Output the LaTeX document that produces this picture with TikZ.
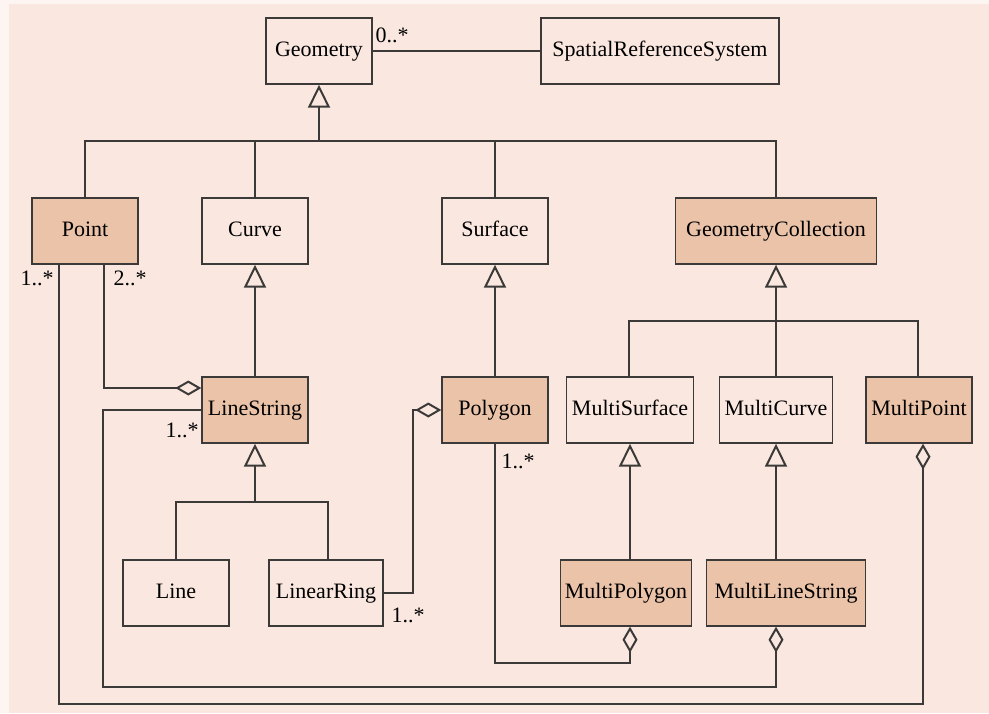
\documentclass[tikz,border=0pt]{standalone}
\usepackage{fontspec}
\setmainfont{Liberation Serif}
\usetikzlibrary{arrows.meta}
\definecolor{paper}{HTML}{FAE8E0}
\definecolor{hilite}{HTML}{EBC3A9}
\definecolor{ink}{HTML}{3C3A38}

\begin{document}
\begin{tikzpicture}[x=0.5pt,y=-0.5pt,
	cls/.style={draw=ink, line width=0.7pt, fill=paper, minimum height=33pt, inner sep=0pt, text height=8pt, text depth=2.5pt, font=\fontsize{11}{13}\selectfont},
	key/.style={cls, fill=hilite},
	mult/.style={font=\fontsize{11}{13}\selectfont, inner sep=0pt},
	link/.style={draw=ink, line width=1pt},
	gen/.style={link, -{Triangle[open, length=11.5pt, width=11pt]}},
	agg/.style={link, -{Diamond[open, length=13pt, width=7.5pt]}}]
	\useasboundingbox (0,0) rectangle (989,713);
	\fill[white!55!paper] (0,0) rectangle (989,713);
	\fill[paper] (9,4) rectangle (989,713);

	% classes
	\node (geom)    at (319, 51)	[cls, minimum width=53pt]	{Geometry};
	\node (srs)     at (660, 51)	[cls, minimum width=119pt]	{SpatialReferenceSystem};
	\node (point)   at ( 85,231)	[key, minimum width=53pt]	{Point};
	\node (curve)   at (255,231)	[cls, minimum width=53pt]	{Curve};
	\node (surface) at (495,231)	[cls, minimum width=53pt]	{Surface};
	\node (gcoll)   at (776,231)	[key, minimum width=100.5pt]	{GeometryCollection};
	\node (linestr) at (255,410)	[key, minimum width=53pt]	{LineString};
	\node (polygon) at (495,410)	[key, minimum width=53pt]	{Polygon};
	\node (msurf)   at (630,410)	[cls, minimum width=63.5pt]	{MultiSurface};
	\node (mcurve)  at (776,410)	[cls, minimum width=56.5pt]	{MultiCurve};
	\node (mpoint)  at (919,410)	[key, minimum width=53pt]	{MultiPoint};
	\node (line)    at (176,593)	[cls, minimum width=53pt]	{Line};
	\node (linring) at (326,593)	[cls, minimum width=57pt]	{LinearRing};
	\node (mpoly)   at (626,593)	[key, minimum width=65.5pt]	{MultiPolygon};
	\node (mlstr)   at (786,593)	[key, minimum width=79.5pt]	{MultiLineString};

	% bends of the tree bars and the long routes
	\coordinate (bar1) at (319,141);
	\coordinate (bar2) at (255,502);
	\coordinate (bar3) at (776,321);
	\coordinate (bot1) at ( 59,704);
	\coordinate (bot2) at (103,687);
	\coordinate (bot3) at (495,663);

	\draw[link] (geom) -- (srs);
	\node (m0) at (392, 35)	[mult]	{0..*};

	% generalisation
	\draw[gen] (bar1) -- (geom);
	\draw[link] (point) |- (bar1) -| (gcoll);
	\draw[link] (curve) -- (curve |- bar1);
	\draw[link] (surface) -- (surface |- bar1);
	\draw[gen] (linestr) -- (curve);
	\draw[gen] (polygon) -- (surface);
	\draw[gen] (bar2) -- (linestr);
	\draw[link] (line) |- (bar2) -| ([xshift=1pt]linring.north);
	\draw[gen] (bar3) -- (gcoll);
	\draw[link] ([xshift=-0.5pt]msurf.north) |- (bar3) -| ([xshift=-0.5pt]mpoint.north);
	\draw[link] (mcurve) -- (mcurve |- bar3);
	\draw[gen] (msurf.south |- mpoly.north) -- (msurf);
	\draw[gen] (mcurve.south |- mlstr.north) -- (mcurve);

	% aggregation
	\draw[agg] ([xshift=9.5pt]point.south) |- ([yshift=11pt]linestr.west);
	\draw[agg] ([xshift=-13pt]point.south) -- (bot1) -| ([xshift=2pt]mpoint.south);
	\draw[agg] (linestr.west) -| (bot2) -| (mcurve.south |- mlstr.south);
	\draw[agg] (linring.east) -- ++(14.5pt,0) |- (polygon.west);
	\draw[agg] (polygon.south) -- (bot3) -| (msurf.south |- mpoly.south);

	\node (m1) at ( 37,278)	[mult]	{1..*};
	\node (m2) at (130,278)	[mult]	{2..*};
	\node (m3) at (182,430)	[mult]	{1..*};
	\node (m4) at (408,615)	[mult]	{1..*};
	\node (m5) at (518,461)	[mult]	{1..*};
\end{tikzpicture}
\end{document}
